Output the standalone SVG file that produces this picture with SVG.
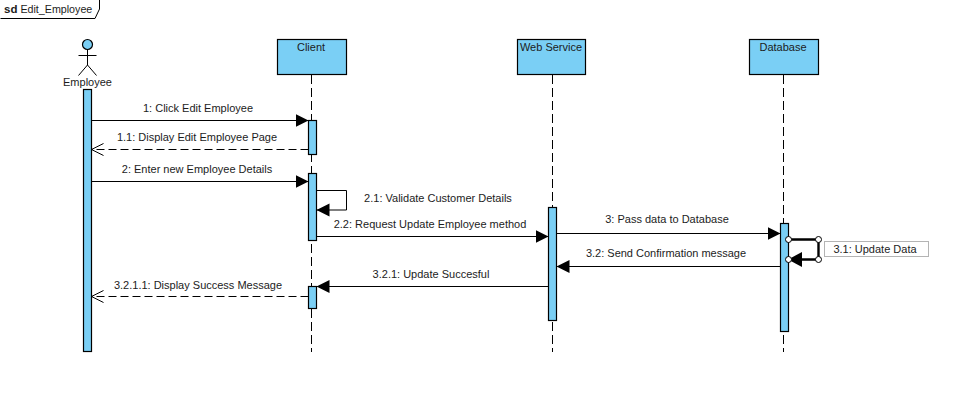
<svg xmlns="http://www.w3.org/2000/svg" width="973" height="401" viewBox="0 0 973 401">
<defs>
<marker id="solid" markerUnits="userSpaceOnUse" markerWidth="14" markerHeight="15" refX="13" refY="7.5" orient="auto-start-reverse"><path d="M0 1 L13 7.5 L0 14 Z" fill="#000"/></marker>
<marker id="open" markerUnits="userSpaceOnUse" markerWidth="14" markerHeight="14" refX="13" refY="7" orient="auto-start-reverse"><path d="M1 1 L13 7 L1 13" fill="none" stroke="#000" stroke-width="1"/></marker>
<marker id="solid-big" markerUnits="userSpaceOnUse" markerWidth="15" markerHeight="17" refX="13" refY="8.5" orient="auto-start-reverse"><path d="M0 1 L14 8.5 L0 16 Z" fill="#000"/></marker>
</defs>
<style>
text{font-family:"Liberation Sans",Arial,sans-serif;font-size:11px;fill:#1c1c1c;text-anchor:middle}
.box,.act{fill:#7acff5;stroke:#000;stroke-width:1.2}
.life{stroke:#000;stroke-width:1;stroke-dasharray:9 4;fill:none}
.msg{fill:none;stroke:#000;stroke-width:1;marker-end:url(#solid)}
.ret{fill:none;stroke:#000;stroke-width:1;stroke-dasharray:8 4;marker-end:url(#open)}
.sel{fill:none;stroke:#000;stroke-width:2.4}
.hnd{fill:#fff;stroke:#000;stroke-width:1}
</style>
<rect width="973" height="401" fill="#fff"/>
<g id="frame">
<path d="M0.5 18.5 H95 L99.5 9 V0" fill="#fff" stroke="#000" stroke-width="1"/>
<text x="4" y="13" style="text-anchor:start;font-size:10.7px"><tspan font-weight="bold" font-size="11.5">sd</tspan> Edit_Employee</text>
</g>
<g id="lifelines">
<path class="life" d="M311.5 75 V352"/>
<path class="life" d="M552.5 75 V352"/>
<path class="life" d="M783.5 75 V352"/>
</g>
<g id="employee">
<circle cx="87.5" cy="44.5" r="5" class="box"/>
<path d="M87.5 49.5 V65 M78.5 55.5 H96.5 M78.5 75.5 L87.5 65 L96.5 75.5" fill="none" stroke="#000" stroke-width="1"/>
<text x="87.5" y="86">Employee</text>
<rect class="act" x="83.5" y="89.5" width="8" height="262"/>
</g>
<g id="client">
<rect class="box" x="277.5" y="39.5" width="69" height="35"/>
<text x="311" y="51">Client</text>
<rect class="act" x="308.5" y="120.5" width="8" height="34"/>
<rect class="act" x="308.5" y="173.5" width="8" height="67"/>
<rect class="act" x="308.5" y="286.5" width="8" height="22"/>
</g>
<g id="web-service">
<rect class="box" x="517.5" y="39.5" width="68" height="35"/>
<text x="551" y="51">Web Service</text>
<rect class="act" x="548.5" y="207.5" width="8" height="113"/>
</g>
<g id="database">
<rect class="box" x="749.5" y="39.5" width="69" height="35"/>
<text x="783" y="51">Database</text>
<rect class="act" x="780.5" y="223.5" width="8" height="108"/>
</g>
<g id="connectors">
<path class="msg" d="M91.5 120.5 H308.5"/>
<path class="ret" d="M308.5 149.5 H91.5"/>
<path class="msg" d="M91.5 181.5 H308.5"/>
<path class="msg" d="M316.5 190.5 H346.5 V210 H316.5"/>
<path class="msg" d="M316.5 236.5 H548.5"/>
<path class="msg" d="M556.5 233.5 H780.5"/>
<path class="msg" d="M780.5 266.5 H556.5"/>
<path class="msg" d="M548.5 286.5 H316.5"/>
<path class="ret" d="M308.5 296.5 H91.5"/>
<path class="sel" d="M788.5 239.5 H818.5 V259.5 H789" marker-end="url(#solid-big)"/>
<circle class="hnd" cx="788.5" cy="239.5" r="3"/>
<circle class="hnd" cx="818.5" cy="239.5" r="3"/>
<circle class="hnd" cx="818.5" cy="259.5" r="3"/>
<circle class="hnd" cx="788.5" cy="259.5" r="3"/>
</g>
<g id="labels">
<text x="198" y="112">1: Click Edit Employee</text>
<text x="197" y="141">1.1: Display Edit Employee Page</text>
<text x="197" y="173">2: Enter new Employee Details</text>
<text x="438" y="202">2.1: Validate Customer Details</text>
<text x="430" y="228">2.2: Request Update Employee method</text>
<text x="667" y="223">3: Pass data to Database</text>
<text x="666" y="257">3.2: Send Confirmation message</text>
<text x="431" y="278">3.2.1: Update Succesful</text>
<text x="198" y="289">3.2.1.1: Display Success Message</text>
</g>
<g id="update-label">
<rect x="824.5" y="241.5" width="104" height="15" fill="#fff" stroke="#b4b4b4" stroke-width="1"/>
<text x="875" y="253">3.1: Update Data</text>
</g>
</svg>
